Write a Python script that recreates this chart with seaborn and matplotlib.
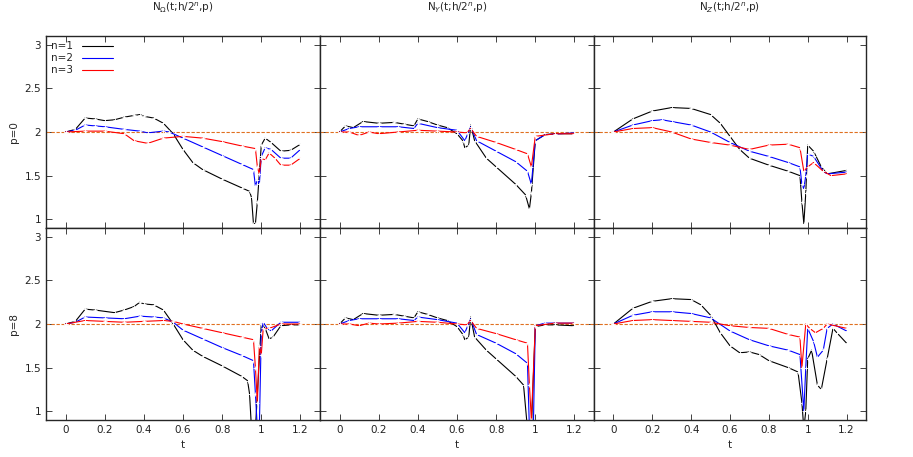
import numpy as np
import pandas as pd
import seaborn as sns
import matplotlib.pyplot as plt
from matplotlib.lines import Line2D

# (t, value) pairs, one list per panel and n
om0_n1 = [(0, 2.0), (0.05, 2.03), (0.1, 2.16), (0.15, 2.15), (0.2, 2.13), (0.25, 2.14), (0.3, 2.17), (0.35, 2.19), (0.38, 2.2), (0.4, 2.18), (0.45, 2.16), (0.5, 2.1), (0.55, 1.98), (0.6, 1.8), (0.65, 1.65), (0.7, 1.57), (0.8, 1.46), (0.9, 1.36), (0.94, 1.32), (0.95, 1.25), (0.96, 0.95), (0.97, 0.95), (0.98, 1.2), (1.0, 1.85), (1.02, 1.93), (1.05, 1.88), (1.1, 1.78), (1.15, 1.79), (1.2, 1.86)]
om0_n2 = [(0, 2.0), (0.05, 2.02), (0.1, 2.08), (0.15, 2.07), (0.2, 2.06), (0.3, 2.03), (0.38, 2.01), (0.42, 1.99), (0.5, 2.01), (0.53, 2.0), (0.6, 1.93), (0.7, 1.83), (0.8, 1.73), (0.9, 1.63), (0.96, 1.57), (0.97, 1.38), (0.98, 1.45), (0.99, 1.4), (1.0, 1.72), (1.02, 1.82), (1.05, 1.8), (1.1, 1.7), (1.15, 1.7), (1.2, 1.8)]
om0_n3 = [(0, 2.0), (0.1, 2.01), (0.2, 2.01), (0.3, 1.98), (0.35, 1.9), (0.42, 1.87), (0.5, 1.93), (0.6, 1.95), (0.7, 1.93), (0.8, 1.89), (0.9, 1.84), (0.97, 1.81), (0.98, 1.6), (0.99, 1.52), (1.0, 1.7), (1.02, 1.68), (1.04, 1.76), (1.07, 1.7), (1.1, 1.62), (1.15, 1.62), (1.2, 1.7)]

y0_n1 = [(0, 2.0), (0.03, 2.07), (0.07, 2.05), (0.12, 2.12), (0.2, 2.1), (0.28, 2.11), (0.33, 2.09), (0.38, 2.07), (0.4, 2.15), (0.45, 2.12), (0.5, 2.08), (0.55, 2.05), (0.6, 1.98), (0.63, 1.9), (0.64, 1.82), (0.66, 1.85), (0.67, 2.08), (0.69, 1.9), (0.75, 1.7), (0.8, 1.6), (0.9, 1.4), (0.95, 1.28), (0.97, 1.12), (0.98, 1.3), (1.0, 1.9), (1.05, 1.97), (1.1, 1.98), (1.2, 1.98)]
y0_n2 = [(0, 2.0), (0.05, 2.04), (0.1, 2.06), (0.2, 2.06), (0.3, 2.06), (0.38, 2.04), (0.4, 2.1), (0.5, 2.05), (0.6, 2.02), (0.64, 1.9), (0.67, 2.06), (0.7, 1.9), (0.8, 1.78), (0.9, 1.66), (0.96, 1.55), (0.98, 1.4), (1.0, 1.9), (1.05, 1.97), (1.2, 1.99)]
y0_n3 = [(0, 2.0), (0.05, 2.0), (0.1, 1.96), (0.15, 2.0), (0.2, 1.98), (0.3, 2.0), (0.4, 2.02), (0.5, 2.01), (0.6, 2.0), (0.65, 1.99), (0.67, 2.04), (0.7, 1.95), (0.8, 1.88), (0.9, 1.8), (0.96, 1.75), (0.98, 1.6), (1.0, 1.95), (1.1, 1.98), (1.2, 1.98)]

z0_n1 = [(0, 2.0), (0.1, 2.15), (0.2, 2.24), (0.3, 2.28), (0.4, 2.27), (0.5, 2.2), (0.55, 2.1), (0.6, 1.95), (0.65, 1.8), (0.7, 1.7), (0.8, 1.62), (0.9, 1.55), (0.96, 1.5), (0.97, 1.2), (0.98, 0.95), (0.99, 1.3), (1.0, 1.85), (1.03, 1.78), (1.07, 1.6), (1.1, 1.52), (1.2, 1.56)]
z0_n2 = [(0, 2.0), (0.1, 2.08), (0.2, 2.13), (0.25, 2.14), (0.3, 2.12), (0.4, 2.08), (0.5, 2.0), (0.6, 1.88), (0.7, 1.78), (0.8, 1.72), (0.9, 1.65), (0.96, 1.6), (0.97, 1.4), (0.98, 1.35), (0.99, 1.5), (1.0, 1.75), (1.03, 1.72), (1.08, 1.55), (1.1, 1.52), (1.2, 1.54)]
z0_n3 = [(0, 2.0), (0.1, 2.04), (0.2, 2.05), (0.3, 2.0), (0.4, 1.92), (0.5, 1.88), (0.6, 1.85), (0.7, 1.8), (0.8, 1.85), (0.9, 1.86), (0.96, 1.82), (0.98, 1.55), (1.0, 1.6), (1.03, 1.65), (1.08, 1.55), (1.12, 1.5), (1.2, 1.52)]

om8_n1 = [(0, 2.0), (0.05, 2.03), (0.1, 2.17), (0.15, 2.16), (0.25, 2.13), (0.3, 2.16), (0.35, 2.2), (0.38, 2.25), (0.4, 2.23), (0.45, 2.22), (0.5, 2.16), (0.55, 2.0), (0.6, 1.82), (0.65, 1.7), (0.7, 1.63), (0.8, 1.52), (0.9, 1.4), (0.93, 1.35), (0.94, 1.2), (0.95, 0.8), (0.97, 0.8), (1.0, 2.0), (1.02, 1.95), (1.04, 1.83), (1.06, 1.85), (1.1, 1.98), (1.15, 1.99), (1.2, 1.99)]
om8_n2 = [(0, 2.0), (0.05, 2.02), (0.1, 2.08), (0.2, 2.07), (0.3, 2.06), (0.38, 2.09), (0.45, 2.08), (0.5, 2.07), (0.55, 2.02), (0.6, 1.93), (0.7, 1.83), (0.8, 1.73), (0.9, 1.64), (0.96, 1.58), (0.97, 1.2), (0.98, 0.8), (0.99, 0.8), (1.0, 1.9), (1.01, 2.02), (1.03, 1.95), (1.05, 1.92), (1.1, 2.02), (1.2, 2.02)]
om8_n3 = [(0, 2.0), (0.1, 2.04), (0.2, 2.03), (0.3, 2.02), (0.4, 2.03), (0.5, 2.04), (0.55, 2.03), (0.6, 2.0), (0.7, 1.95), (0.8, 1.9), (0.9, 1.85), (0.96, 1.82), (0.97, 1.5), (0.98, 1.1), (0.99, 1.75), (1.0, 1.65), (1.01, 1.95), (1.04, 1.95), (1.1, 2.0), (1.2, 2.0)]

y8_n1 = [(0, 2.0), (0.03, 2.07), (0.07, 2.05), (0.12, 2.12), (0.2, 2.1), (0.28, 2.11), (0.33, 2.09), (0.38, 2.07), (0.4, 2.14), (0.45, 2.11), (0.5, 2.07), (0.55, 2.04), (0.6, 1.97), (0.63, 1.88), (0.64, 1.82), (0.66, 1.85), (0.67, 2.08), (0.69, 1.85), (0.75, 1.7), (0.8, 1.6), (0.9, 1.4), (0.94, 1.3), (0.96, 0.8), (0.98, 0.8), (1.0, 1.97), (1.05, 1.99), (1.1, 1.99), (1.2, 1.98)]
y8_n2 = [(0, 2.0), (0.05, 2.04), (0.1, 2.06), (0.2, 2.06), (0.3, 2.06), (0.38, 2.04), (0.4, 2.08), (0.5, 2.05), (0.6, 2.01), (0.64, 1.9), (0.67, 2.06), (0.7, 1.88), (0.8, 1.78), (0.9, 1.66), (0.96, 1.55), (0.97, 0.8), (0.99, 0.8), (1.0, 1.98), (1.05, 2.01), (1.2, 2.01)]
y8_n3 = [(0, 2.0), (0.05, 2.0), (0.1, 1.98), (0.15, 2.01), (0.2, 2.0), (0.3, 2.01), (0.4, 2.03), (0.5, 2.02), (0.6, 2.0), (0.65, 1.99), (0.67, 2.04), (0.7, 1.95), (0.8, 1.89), (0.9, 1.82), (0.96, 1.78), (0.97, 1.3), (0.98, 0.9), (1.0, 1.98), (1.1, 2.01), (1.2, 2.01)]

z8_n1 = [(0, 2.0), (0.1, 2.18), (0.2, 2.26), (0.3, 2.29), (0.4, 2.28), (0.45, 2.22), (0.5, 2.1), (0.55, 1.9), (0.6, 1.75), (0.65, 1.67), (0.7, 1.68), (0.75, 1.65), (0.8, 1.58), (0.9, 1.5), (0.95, 1.45), (0.97, 1.1), (0.98, 0.8), (0.99, 1.0), (1.0, 1.6), (1.02, 1.7), (1.05, 1.3), (1.07, 1.25), (1.1, 1.6), (1.13, 1.95), (1.15, 1.9), (1.2, 1.78)]
z8_n2 = [(0, 2.0), (0.1, 2.1), (0.2, 2.14), (0.3, 2.14), (0.4, 2.12), (0.5, 2.07), (0.6, 1.92), (0.7, 1.82), (0.8, 1.75), (0.9, 1.7), (0.96, 1.65), (0.98, 1.0), (0.99, 1.5), (1.0, 1.95), (1.03, 1.8), (1.05, 1.62), (1.08, 1.7), (1.1, 1.95), (1.13, 2.0), (1.2, 1.92)]
z8_n3 = [(0, 2.0), (0.1, 2.04), (0.2, 2.05), (0.3, 2.04), (0.4, 2.03), (0.5, 2.02), (0.6, 1.98), (0.7, 1.96), (0.8, 1.95), (0.9, 1.88), (0.96, 1.85), (0.97, 1.5), (0.99, 2.0), (1.01, 1.95), (1.04, 1.9), (1.08, 1.95), (1.1, 2.0), (1.2, 1.95)]

titles = [r"N$_{\Omega}$(t;h/2$^{n}$,p)", r"N$_{Y}$(t;h/2$^{n}$,p)", r"N$_{Z}$(t;h/2$^{n}$,p)"]
row_labels = ["p=0", "p=8"]
series_labels = ["n=1", "n=2", "n=3"]
panels = [[[om0_n1, om0_n2, om0_n3], [y0_n1, y0_n2, y0_n3], [z0_n1, z0_n2, z0_n3]],
          [[om8_n1, om8_n2, om8_n3], [y8_n1, y8_n2, y8_n3], [z8_n1, z8_n2, z8_n3]]]
colors = ["black", "blue", "red"]

sns.set_style("ticks")
plt.rcParams["font.size"] = 7.5

fig = plt.figure(figsize=(9.13, 4.57), dpi=100)
W, H = 913, 457
xs = [46, 320, 594, 866]
ys = [36, 228, 420]

for r in range(2):
    for c in range(3):
        ax = fig.add_axes([xs[c] / W, 1 - ys[r + 1] / H, (xs[c + 1] - xs[c]) / W, (ys[r + 1] - ys[r]) / H])
        ax.axhline(2, color="#e07020", ls="--", lw=0.8, dashes=(3, 1.5))
        for k, pts in enumerate(panels[r][c]):
            df = pd.DataFrame(pts, columns=["t", "v"])
            sns.lineplot(data=df, x="t", y="v", ax=ax, color=colors[k], lw=0.8, sort=False,
                         marker="+", markersize=2.5, markeredgewidth=0.6, legend=False)
        ax.set_xlim(-0.1, 1.3)
        ax.set_ylim(0.9, 3.1)
        ax.set_xticks(np.arange(0, 1.21, 0.2))
        ax.set_yticks([1, 1.5, 2, 2.5, 3])
        ax.tick_params(direction="in", top=True, right=True, length=4, width=0.6, colors="#222222")
        for s in ax.spines.values():
            s.set_linewidth(1.0)
        ax.set_xlabel("t" if r == 1 else "")
        ax.set_ylabel(row_labels[r] if c == 0 else "")
        if c != 0:
            ax.set_yticklabels([])
        else:
            ax.set_yticklabels(["1", "1.5", "2", "2.5", "3"])
        if r == 0:
            ax.set_xticklabels([])
            ax.set_title(titles[c], fontsize=7.5, pad=18)
        else:
            ax.set_xticklabels(["0", "0.2", "0.4", "0.6", "0.8", "1", "1.2"])
        if r == 0 and c == 0:
            handles = [Line2D([], [], color=col, lw=0.8) for col in colors]
            ax.legend(handles, series_labels, loc="upper left", frameon=False, markerfirst=False,
                      handlelength=3, borderaxespad=0.1, labelspacing=0.2)

fig.savefig("out.png", dpi=100)
